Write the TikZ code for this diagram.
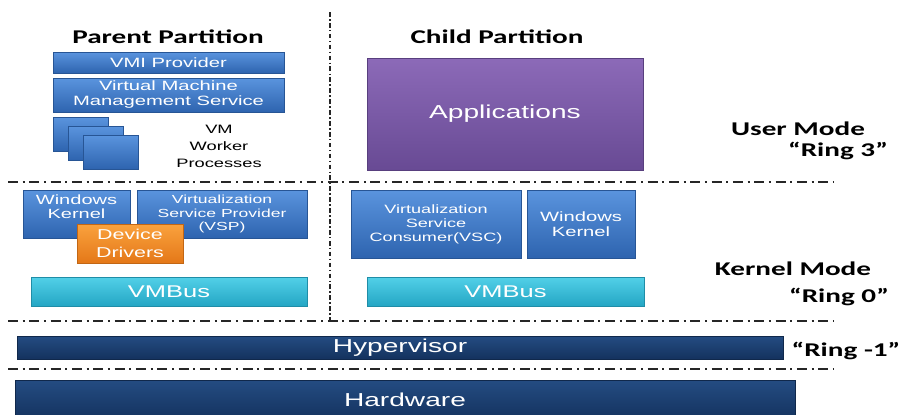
\documentclass[tikz,border=0pt]{standalone}
\usepackage{fontspec}
\newfontfamily\boxfont{Liberation Sans}[FakeStretch=1.5]
\newfontfamily\modefont{Carlito}[FakeStretch=1.5]
\usetikzlibrary{shadows}

\definecolor{bluetop}{RGB}{90,148,222}
\definecolor{bluebot}{RGB}{46,100,175}
\definecolor{purptop}{RGB}{140,106,184}
\definecolor{purpbot}{RGB}{104,74,148}
\definecolor{orgtop}{RGB}{250,162,62}
\definecolor{orgbot}{RGB}{228,120,24}
\definecolor{cyantop}{RGB}{82,208,232}
\definecolor{cyanbot}{RGB}{36,166,196}
\definecolor{navytop}{RGB}{36,76,130}
\definecolor{navybot}{RGB}{20,50,94}

\begin{document}
\begin{tikzpicture}[
  x=0.03cm, y=-0.03cm,
  every node/.style={inner sep=1pt},
  wh/.style 2 args={minimum width=#1*0.03cm, minimum height=#2*0.03cm},
  fs/.style 2 args={font=\boxfont\fontsize{#1}{#2}\selectfont},
  panel/.style={line width=0.4pt, text=white, align=center,
    drop shadow={shadow xshift=0.9pt, shadow yshift=-0.9pt, opacity=0.3}},
  bluebox/.style={panel, top color=bluetop, bottom color=bluebot, draw=bluebot!85!black},
  purpbox/.style={panel, top color=purptop, bottom color=purpbot, draw=purpbot!85!black},
  orgbox/.style={panel, top color=orgtop, bottom color=orgbot, draw=orgbot!85!black},
  busbox/.style={panel, top color=cyantop, bottom color=cyanbot, draw=cyanbot!85!black},
  navybox/.style={panel, top color=navytop, bottom color=navybot, draw=navybot!80!black},
  title/.style={font=\modefont\bfseries\fontsize{16.6}{19}\selectfont, anchor=base},
  sepline/.style={line width=1.6pt, black!85, dash pattern=on 8.5pt off 4pt on 1.7pt off 4pt},
  divline/.style={line width=1.3pt, black!85, dash pattern=on 4pt off 2pt on 1.3pt off 2pt}
]
\useasboundingbox (0,0) rectangle (903,414);
\clip (0,0) rectangle (903,414);

% separators
\coordinate (divn) at (330,12);
\coordinate (divs) at (330,321);
\coordinate (userw) at (8,182);   \coordinate (usere) at (834,182);
\coordinate (kernw) at (8,321);   \coordinate (kerne) at (834,321);
\coordinate (hypw) at (8,369);    \coordinate (hype) at (834,369);
\draw[divline] (divn) -- (divs);
\draw[sepline] (userw) -- (usere);
\draw[sepline] (kernw) -- (kerne);
\draw[sepline] (hypw) -- (hype);

% partitions
\node[title] (parent) at (168,43) {Parent Partition};
\node[title] (child) at (497,43) {Child Partition};

% parent, user mode
\node[bluebox, wh={231}{21}, fs={11.5}{13}] (vmi) at (168.5,62.5) {VMI Provider};
\node[bluebox, wh={231}{34}, fs={11.5}{12.8}] (vmms) at (168.5,95) {Virtual Machine\\Management Service};
\node[bluebox, wh={55}{34}] (wp1) at (80.5,134) {};
\node[bluebox, wh={55}{34}] (wp2) at (95.5,143) {};
\node[bluebox, wh={55}{34}] (wp3) at (110.5,152) {};
\node[fs={10.4}{14.5}, align=center] (wplab) at (219,146) {VM\\Worker\\Processes};

% child, user mode
\node[purpbox, wh={276}{112}, fs={16}{18}] (apps) at (505,114) {Applications};

% parent, kernel mode
\node[bluebox, wh={107}{48}, label={[fs={11.4}{12}, text=white, align=center, yshift=0.22cm]center:Windows\\Kernel}] (wkp) at (76.5,214) {};
\node[bluebox, wh={170}{48}, fs={10}{11.5}] (vsp) at (222,214) {Virtualization\\Service Provider\\(VSP)};
\node[orgbox, wh={106}{39}, fs={12.2}{15}] (drv) at (130,243.5) {Device\\Drivers};
\node[busbox, wh={276}{29}, fs={14.5}{16}] (busp) at (169,291.5) {VMBus};

% child, kernel mode
\node[bluebox, wh={170}{68}, fs={10.3}{12}] (vsc) at (436,224) {Virtualization\\Service\\Consumer(VSC)};
\node[bluebox, wh={108}{68}, fs={11.5}{12.8}] (wkc) at (581,224) {Windows\\Kernel};
\node[busbox, wh={277}{29}, fs={14.5}{16}] (busc) at (505.5,291.5) {VMBus};

% hypervisor and hardware
\node[navybox, wh={766}{23}, fs={16}{18}] (hyp) at (400,347.5) {Hypervisor};
\node[navybox, wh={780}{40}, fs={16}{18}] (hw) at (405,400) {Hardware};

% modes
\node[title] (user) at (798,135) {User Mode};
\node[title] (ring3) at (838,156) {“Ring 3”};
\node[title] (kern) at (793,275) {Kernel Mode};
\node[title] (ring0) at (839,302) {“Ring 0”};
\node[title] (ringm1) at (846,356) {“Ring -1”};
\end{tikzpicture}
\end{document}
